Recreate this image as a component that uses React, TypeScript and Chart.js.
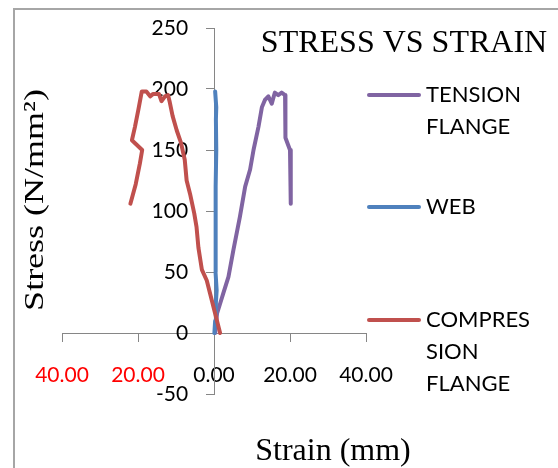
import React, { useEffect, useRef } from "react";
import { Chart, registerables } from "chart.js";

Chart.register(...registerables);

// ---- data ----
const seriesNames = ["TENSION FLANGE", "WEB", "COMPRESSION FLANGE"];
const legendLines = [["TENSION", "FLANGE"], ["WEB"], ["COMPRES", "SION", "FLANGE"]];
const seriesColors = ["#8064A2", "#4F81BD", "#C0504D"];

const tensionStrain = [0.3, 0.8, 1.6, 2.4, 3.8, 5.1, 6.8, 8.2, 9.5, 10.4, 11.7, 12.6, 13.4, 14.3, 15.2, 16.0, 16.9, 17.8, 18.7, 18.8, 20.0, 20.2];
const tensionStress = [0, 16, 24, 32, 46, 68, 95, 120, 134, 150, 169, 185, 191, 194, 188, 197, 195, 197, 195, 160, 150, 106];

const webStrain = [0.1, 0.3, 0.5, 0.7, 0.4, 0.4, 0.5, 0.4, 0.6, 0.5, 0.6, 0.3];
const webStress = [0, 10, 25, 35, 50, 70, 100, 120, 150, 175, 185, 198];

const compStrain = [1.6, 0.3, -1.0, -1.9, -3.2, -3.6, -4.1, -4.6, -5.2, -6.3, -7.2, -7.7, -8.7, -9.8, -10.9, -11.7, -12.1, -12.9, -13.8, -14.5, -16.0, -16.8, -17.8, -19.0, -19.9, -20.8, -21.6, -18.9, -19.5, -20.6, -22.0];
const compStress = [0, 16, 32, 43, 52, 60, 70, 87, 98, 114, 125, 142, 156, 166, 178, 190, 195, 194, 190, 196, 196, 194, 198, 198, 183, 169, 158, 150, 139, 122, 106];

const xTickValues = [-40, -20, 0, 20, 40];
const yTickValues = [-50, 0, 50, 100, 150, 200, 250];

const chartTitle = "STRESS VS STRAIN";
const xTitle = "Strain (mm)";
const yTitle = "Stress (N/mm²)";

const toPoints = (xs: number[], ys: number[]) => xs.map((x, i) => ({ x, y: ys[i] }));

const decorPlugin = {
  id: "decor",
  beforeDraw(chart: any) {
    const ctx = chart.ctx;
    ctx.save();
    ctx.fillStyle = "#ffffff";
    ctx.fillRect(0, 0, chart.width, chart.height);
    ctx.strokeStyle = "#a6a6a6";
    ctx.lineWidth = 2;
    ctx.strokeRect(14, 9, chart.width + 20, chart.height + 20);
    ctx.restore();
  },
  afterDraw(chart: any) {
    const ctx = chart.ctx;
    ctx.save();
    ctx.fillStyle = "#000";
    ctx.font = "32px 'Liberation Serif'";
    ctx.textAlign = "center";
    ctx.textBaseline = "alphabetic";
    ctx.fillText(chartTitle, 404, 52);
    ctx.fillText(xTitle, 333, 460);
    ctx.save();
    ctx.translate(43, 200);
    ctx.rotate(-Math.PI / 2);
    ctx.scale(1, 0.78);
    ctx.font = "36px 'Liberation Serif'";
    ctx.textAlign = "center";
    ctx.fillText(yTitle, 0, 0);
    ctx.restore();
    const rows = [95, 207, 320];
    ctx.font = "22px Lato";
    ctx.textAlign = "left";
    ctx.textBaseline = "middle";
    chart.data.datasets.forEach((ds: any, i: number) => {
      const y0 = rows[i];
      ctx.strokeStyle = ds.borderColor;
      ctx.lineWidth = 4;
      ctx.lineCap = "round";
      ctx.beginPath();
      ctx.moveTo(369, y0);
      ctx.lineTo(419, y0);
      ctx.stroke();
      ctx.fillStyle = "#000";
      legendLines[i].forEach((t, j) => ctx.fillText(t, 426, y0 + j * 32));
    });
    ctx.restore();
  },
};

export default function App() {
  const ref = useRef<HTMLCanvasElement | null>(null);
  useEffect(() => {
    if (!ref.current) return;
    const common = {
      showLine: true,
      pointRadius: 0,
      borderWidth: 4,
      fill: false,
      borderJoinStyle: "round" as const,
      borderCapStyle: "round" as const,
    };
    const yMin = yTickValues[0];
    const yMax = yTickValues[yTickValues.length - 1];
    const chart = new Chart(ref.current, {
      type: "scatter",
      data: {
        datasets: [
          { ...common, label: seriesNames[0], data: toPoints(tensionStrain, tensionStress), borderColor: seriesColors[0], backgroundColor: seriesColors[0], order: 3 },
          { ...common, label: seriesNames[1], data: toPoints(webStrain, webStress), borderColor: seriesColors[1], backgroundColor: seriesColors[1], order: 2 },
          { ...common, label: seriesNames[2], data: toPoints(compStrain, compStress), borderColor: seriesColors[2], backgroundColor: seriesColors[2], order: 1 },
        ],
      },
      options: {
        responsive: false,
        animation: false,
        layout: { padding: { left: 62, top: 28, right: 192, bottom: 74 } },
        plugins: { legend: { display: false }, tooltip: { enabled: false }, title: { display: false } },
        scales: {
          x: {
            type: "linear",
            position: { y: 0 } as any,
            min: xTickValues[0],
            max: xTickValues[xTickValues.length - 1],
            afterBuildTicks: (s: any) => { s.ticks = xTickValues.map((v) => ({ value: v })); },
            ticks: {
              autoSkip: false,
              maxRotation: 0,
              padding: 22,
              font: { family: "Lato", size: 21 },
              color: (c: any) => (c.tick && c.tick.value < 0 ? "#FF0000" : "#000000"),
              callback: (v: any) => Math.abs(Number(v)).toFixed(2),
            },
            grid: { drawOnChartArea: false, drawTicks: true, tickLength: 8, color: "#868686" },
            border: { display: true, color: "#868686", width: 1 },
          },
          y: {
            type: "linear",
            position: { x: 0 } as any,
            min: yMin,
            max: yMax,
            afterBuildTicks: (s: any) => { s.ticks = yTickValues.map((v) => ({ value: v })); },
            ticks: { display: false },
            grid: { drawOnChartArea: false, drawTicks: true, tickLength: 8, color: "#868686" },
            border: { display: true, color: "#868686", width: 1 },
          },
          yLabels: {
            type: "linear",
            axis: "y",
            position: { x: -6.8 } as any,
            min: yMin,
            max: yMax,
            afterBuildTicks: (s: any) => { s.ticks = yTickValues.map((v) => ({ value: v })); },
            ticks: {
              autoSkip: false,
              font: { family: "Lato", size: 21 },
              color: "#000000",
              callback: (v: any) => String(v),
            },
            grid: { display: false, drawTicks: false, tickLength: 0 },
            border: { display: false },
          },
        },
      },
      plugins: [decorPlugin],
    });
    return () => chart.destroy();
  }, []);
  return (
    <div style={{ position: "fixed", left: 0, top: 0, width: 558, height: 468, background: "#fff" }}>
      <canvas ref={ref} width={558} height={468} style={{ display: "block" }} />
    </div>
  );
}
